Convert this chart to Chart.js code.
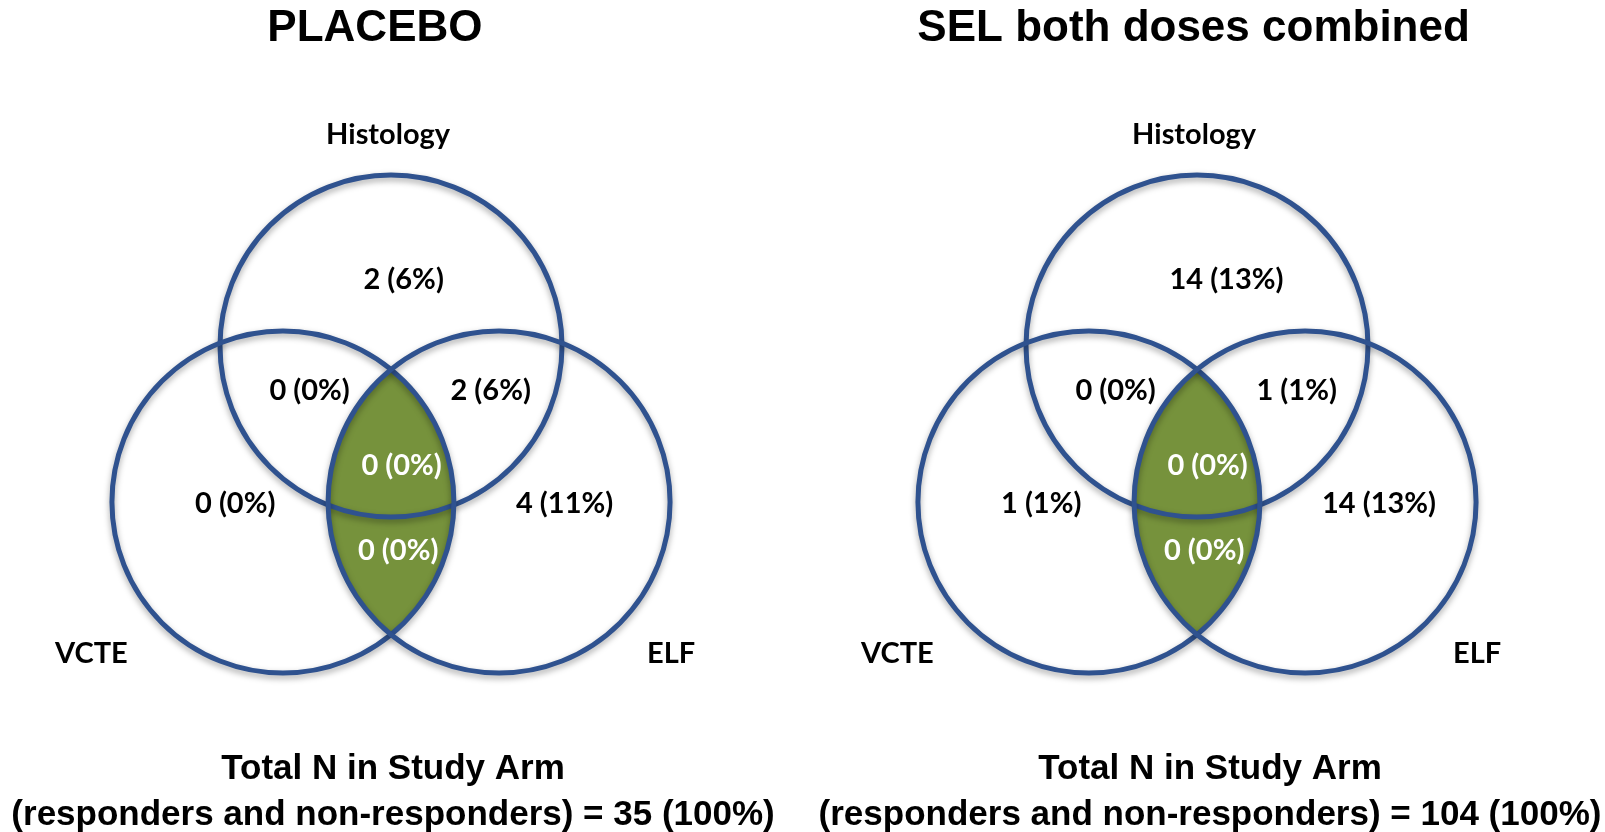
<!DOCTYPE html>
<html>
<head>
<meta charset="utf-8">
<script src="https://cdn.jsdelivr.net/npm/chart.js@4.4.1/dist/chart.umd.min.js"></script>
<style>
  html, body { margin: 0; padding: 0; background: #fff; }
  #wrap { position: relative; width: 1605px; height: 832px; }
  .panel { position: absolute; top: 0; height: 832px; }
</style>
</head>
<body>
<div id="wrap">
  <div class="panel" style="left:0;width:802px"><canvas id="placeboChart"></canvas></div>
  <div class="panel" style="left:802px;width:803px"><canvas id="selChart"></canvas></div>
</div>
<script>
// Venn data: the seven regions, same order for both arms
const regions = ['Histology only', 'Histology + VCTE', 'Histology + ELF', 'All three', 'VCTE only', 'ELF only', 'VCTE + ELF'];
const placeboN = [2, 0, 2, 0, 0, 4, 0];
const placeboPct = [6, 0, 6, 0, 0, 11, 0];
const selN = [14, 0, 1, 0, 1, 14, 0];
const selPct = [13, 0, 1, 0, 1, 13, 0];
const circleNames = ['Histology', 'VCTE', 'ELF'];
const armTitles = ['PLACEBO', 'SEL both doses combined'];
const armTotals = [35, 104];

// circle centres in radius units (radius = 1), VCTE/ELF on y = 0
const circleCenters = [{x: 0, y: 0.912}, {x: -0.632, y: 0}, {x: 0.632, y: 0}];
// left edge / middle for each region label, radius units
const regionPos = [[-0.161, 1.302], [-0.711, 0.649], [0.348, 0.649], [-0.173, 0.211], [-1.146, -0.01], [0.731, -0.01], [-0.193, -0.285]];
const namePos = [[-0.017, 2.146], [-1.752, -0.889], [1.638, -0.889]];
const insideGreen = [false, false, false, true, false, false, true];

const R_PX = 171;
const BLUE = '#2F528F';
const GREEN = '#76923C';
const labelFont = "bold 29px Lato, 'Open Sans', sans-serif";
const bigFont = "'Liberation Sans', Arial, sans-serif";

function radiusPx(chart) {
    const s = chart.scales.x;
    return s.getPixelForValue(1) - s.getPixelForValue(0);
}

const vennPlugin = {
    id: 'venn',
    beforeDatasetsDraw(chart) {
        const ctx = chart.ctx;
        const x = chart.scales.x, y = chart.scales.y;
        const r = radiusPx(chart);
        const v = circleCenters[1], e = circleCenters[2];
        // VCTE ∩ ELF lens
        ctx.save();
        ctx.beginPath();
        ctx.arc(x.getPixelForValue(v.x), y.getPixelForValue(v.y), r, 0, Math.PI * 2);
        ctx.clip();
        ctx.beginPath();
        ctx.arc(x.getPixelForValue(e.x), y.getPixelForValue(e.y), r, 0, Math.PI * 2);
        ctx.fillStyle = GREEN;
        ctx.fill();
        ctx.restore();
        // soft shadow under the outlines
        ctx.save();
        ctx.shadowColor = 'rgba(0,0,0,0.35)';
        ctx.shadowBlur = 6;
        ctx.shadowOffsetY = 3;
    },
    afterDatasetsDraw(chart, args, opts) {
        const ctx = chart.ctx;
        ctx.restore();
        const x = chart.scales.x, y = chart.scales.y;
        ctx.save();
        ctx.textBaseline = 'middle';

        // region counts
        ctx.font = labelFont;
        ctx.textAlign = 'left';
        opts.counts.forEach((n, i) => {
            ctx.fillStyle = insideGreen[i] ? '#fff' : '#000';
            ctx.fillText(n + ' (' + opts.pcts[i] + '%)', x.getPixelForValue(regionPos[i][0]), y.getPixelForValue(regionPos[i][1]));
        });

        // circle names
        ctx.textAlign = 'center';
        ctx.fillStyle = '#000';
        circleNames.forEach((name, i) => {
            ctx.fillText(name, x.getPixelForValue(namePos[i][0]), y.getPixelForValue(namePos[i][1]));
        });

        // arm title
        ctx.font = 'bold 44px ' + bigFont;
        ctx.fillText(opts.title, x.getPixelForValue(opts.titleX), y.getPixelForValue(2.768));

        // total line
        ctx.font = 'bold 35px ' + bigFont;
        ctx.fillText('Total N in Study Arm', x.getPixelForValue(opts.totalX), y.getPixelForValue(-1.566));
        ctx.fillText('(responders and non-responders) = ' + opts.total + ' (100%)', x.getPixelForValue(opts.totalX), y.getPixelForValue(-1.835));
        ctx.restore();
    }
};

function createVenn(canvasId, width, centerPx, counts, pcts, title, total, titleX, totalX) {
    const canvas = document.getElementById(canvasId);
    if (!canvas) return null;
    const ctx = canvas.getContext('2d');
    return new Chart(ctx, {
        type: 'scatter',
        data: {
            labels: circleNames,
            datasets: [{
                data: circleCenters,
                pointRadius: (c) => radiusPx(c.chart),
                pointHoverRadius: (c) => radiusPx(c.chart),
                pointBackgroundColor: 'rgba(0,0,0,0)',
                pointBorderColor: BLUE,
                pointBorderWidth: 5,
                pointHoverBorderWidth: 5
            }]
        },
        options: {
            responsive: true,
            maintainAspectRatio: false,
            animation: false,
            events: [],
            layout: { padding: 0 },
            scales: {
                x: { type: 'linear', display: false, min: -centerPx / R_PX, max: (width - centerPx) / R_PX },
                y: { type: 'linear', display: false, min: -(832 - 502) / R_PX, max: 502 / R_PX }
            },
            plugins: {
                legend: { display: false },
                tooltip: { enabled: false },
                venn: { counts: counts, pcts: pcts, title: title, total: total, titleX: titleX, totalX: totalX }
            }
        },
        plugins: [vennPlugin]
    });
}

createVenn('placeboChart', 802, 391, placeboN, placeboPct, armTitles[0], armTotals[0], -0.094, 0.012);
createVenn('selChart', 803, 395, selN, selPct, armTitles[1], armTotals[1], -0.02, 0.076);
</script>
</body>
</html>
